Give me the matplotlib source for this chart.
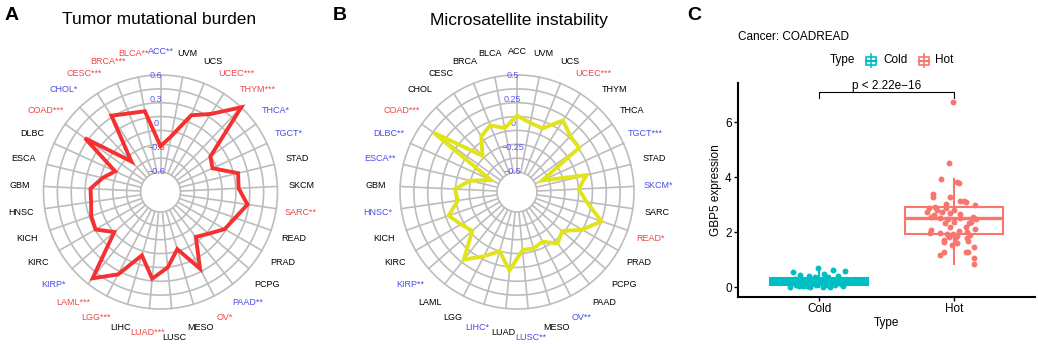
import numpy as np
import matplotlib
matplotlib.use("Agg")
import matplotlib.pyplot as plt
from matplotlib.patches import Rectangle
from matplotlib.lines import Line2D

plt.rcParams['font.family'] = ['Liberation Sans', 'DejaVu Sans']

W, H = 1038, 344

# cancer types, alphabetical, drawn counter-clockwise from the top
cancers = ['ACC', 'BLCA', 'BRCA', 'CESC', 'CHOL', 'COAD', 'DLBC', 'ESCA', 'GBM',
           'HNSC', 'KICH', 'KIRC', 'KIRP', 'LAML', 'LGG', 'LIHC', 'LUAD', 'LUSC',
           'MESO', 'OV', 'PAAD', 'PCPG', 'PRAD', 'READ', 'SARC', 'SKCM', 'STAD',
           'TGCT', 'THCA', 'THYM', 'UCEC', 'UCS', 'UVM']

# panel A: correlation with tumor mutational burden
tmb_cor = [-0.28, 0.17, 0.20, 0.275, -0.325, 0.30, -0.23, -0.11, 0.02,
           0.02, 0.06, 0.08, -0.09, 0.51, 0.30, -0.03, 0.23, 0.09,
           -0.11, 0.22, -0.14, -0.06, 0.07, 0.13, 0.24, 0.12, 0.14,
           -0.14, -0.09, 0.60, 0.30, 0.175, -0.145]
tmb_stars = ['**', '**', '***', '***', '*', '***', '', '', '',
             '', '', '', '*', '***', '***', '', '***', '',
             '', '*', '**', '', '', '', '**', '', '',
             '*', '*', '***', '***', '', '']

# panel B: correlation with microsatellite instability
msi_cor = [0.08, -0.035, 0.035, -0.025, -0.19, 0.35, -0.41, -0.21, -0.066,
           -0.09, 0.04, -0.04, -0.095, 0.18, 0.04, -0.07, 0.107, -0.105,
           -0.10, -0.13, -0.03, -0.09, 0.07, 0.216, 0.02, -0.07, 0.03,
           -0.42, 0.08, 0.09, 0.17, 0.0, 0.02]
msi_stars = ['', '', '', '', '', '***', '**', '**', '',
             '*', '', '', '**', '', '', '*', '', '**',
             '', '**', '', '', '', '*', '', '*', '',
             '***', '', '', '***', '', '']

tmb_ticks = [0.6, 0.3, 0, -0.3, -0.6]
tmb_tick_labels = ['0.6', '0.3', '0', '\u22120.3', '\u22120.6']
msi_ticks = [0.5, 0.25, 0, -0.25, -0.5]
msi_tick_labels = ['0.5', '0.25', '0', '\u22120.25', '\u22120.5']

# panel C: GBP5 expression in cold / hot COADREAD tumours
groups = ['Cold', 'Hot']
cold_stats = dict(q1=0.08, med=0.20, q3=0.33, whislo=0.0, whishi=0.62)
hot_stats = dict(q1=1.92, med=2.52, q3=2.90, whislo=0.83, whishi=3.92)
cold_dx = [-0.193, -0.007, 0.19, 0.10, 0.037, -0.074, -0.143, -0.18, -0.10, -0.032,
           0.07, 0.14, -0.205, -0.168, -0.119, -0.057, -0.02, 0.017, 0.067, 0.116,
           0.165, 0.178, -0.217, -0.07, 0.005, 0.04, -0.143, 0.14, 0.08, -0.09,
           0.12, -0.04, 0.03, 0.09, -0.15]
cold_y = [0.56, 0.70, 0.58, 0.61, 0.49, 0.42, 0.45, 0.29, 0.23, 0.35,
          0.35, 0.42, 0.15, 0.09, 0.03, 0.12, 0.06, 0.15, 0.09, 0.06,
          0.12, 0.03, 0.01, 0.02, 0.23, 0.17, 0.17, 0.23, 0.01, 0.05,
          0.18, 0.28, 0.02, 0.26, 0.03]
hot_dx = [-0.007, -0.037, -0.096, 0.022, 0.04, -0.158, -0.156, -0.027, 0.077, 0.089,
          -0.057, 0.158, -0.188, -0.126, -0.059, 0.002, -0.2, -0.15, -0.089, -0.027,
          0.042, 0.141, -0.17, -0.101, -0.047, 0.047, 0.165, 0.128, 0.109, -0.002,
          -0.069, 0.158, 0.091, -0.17, -0.101, -0.052, -0.007, 0.022, -0.18, 0.035,
          0.096, 0.121, 0.01, -0.04, -0.077, 0.096, 0.101, -0.015, -0.077, 0.022,
          0.15, -0.077, -0.101, 0.091, 0.101, 0.146, 0.15, 0.047, -0.138, -0.03]
hot_y = [6.74, 4.52, 3.93, 3.83, 3.77, 3.38, 3.27, 3.26, 3.13, 3.10,
         3.02, 2.98, 2.86, 2.80, 2.86, 2.80, 2.72, 2.62, 2.72, 2.68,
         2.64, 2.56, 2.56, 2.50, 2.46, 2.52, 2.46, 2.37, 2.32, 2.37,
         2.32, 2.13, 2.18, 2.07, 1.95, 1.92, 1.92, 1.87, 1.95, 2.04,
         1.99, 1.89, 1.77, 1.83, 1.71, 1.77, 1.68, 1.53, 1.65, 1.59,
         1.47, 1.28, 1.16, 1.28, 1.26, 1.04, 0.84, 3.13, 2.92, 2.20]

RED = '#F24545'
BLUE = '#4B4BEF'
GRID = '#BDBDBD'
COLD = '#00BFC4'
HOT = '#F8766D'

fig = plt.figure(figsize=(W / 100, H / 100), dpi=100)


def fx(x):
    return x / W


def fy(y):
    return 1 - y / H


def radar(cx, cy, values, stars, vmax, ticks, tick_labels, line_color, title, title_x):
    outer, inner, lab_r = 117, 20, 141
    ax = fig.add_axes([fx(cx - outer), fy(cy + outer), 2 * outer / W, 2 * outer / H],
                      projection='polar')
    scale = (outer - inner) / (2 * vmax)
    ax.set_theta_offset(np.pi / 2)
    ax.set_ylim(-vmax, vmax)
    ax.set_rorigin(-vmax - inner / scale)
    ax.axis('off')

    n = len(cancers)
    theta = np.arange(n) * 2 * np.pi / n
    full = np.linspace(0, 2 * np.pi, 361)
    for r in np.linspace(-vmax, vmax, 8):
        ax.plot(full, np.full_like(full, r), color=GRID, lw=1.2, clip_on=False, zorder=1)
    for t in theta:
        ax.plot([t, t], [-vmax, vmax], color=GRID, lw=1.2, clip_on=False, zorder=1)

    for t, lab in zip(ticks, tick_labels):
        ax.annotate(lab, (0, t), xytext=(-3, 0), textcoords='offset points',
                    ha='center', va='center', fontsize=6.5, color='#5A5AF5', zorder=3)

    ax.plot(np.append(theta, theta[0]), np.append(values, values[0]),
            color=line_color, lw=2.8, clip_on=False, zorder=4, solid_joinstyle='miter')

    lab_v = vmax + (lab_r - outer) / scale
    for t, name, v, s in zip(theta, cancers, values, stars):
        col = 'black' if not s else (RED if v > 0 else BLUE)
        dy = -4 if name == 'LUSC' else 0
        ax.annotate(name + s, (t, lab_v), xytext=(0, dy), textcoords='offset points',
                    ha='center', va='center', fontsize=6.5, color=col,
                    annotation_clip=False)

    fig.text(fx(title_x), fy(20), title, ha='center', va='center', fontsize=12.5)


radar(160.5, 192, tmb_cor, tmb_stars, 0.6, tmb_ticks, tmb_tick_labels, '#F53030',
      'Tumor mutational burden', 159)
radar(517, 192, msi_cor, msi_stars, 0.5, msi_ticks, msi_tick_labels, '#E3E31A',
      'Microsatellite instability', 519)

for letter, x in [('A', 5), ('B', 333), ('C', 687)]:
    fig.text(fx(x), fy(15), letter, ha='left', va='center', fontsize=14, fontweight='bold')

# panel C
axc = fig.add_axes([fx(738), fy(297), (1035 - 738) / W, (297 - 83) / H])
bp = axc.bxp([cold_stats, hot_stats], positions=[1, 2], widths=0.72, showfliers=False,
             showcaps=False, patch_artist=True)
for i, c in enumerate([COLD, HOT]):
    bp['boxes'][i].set(facecolor=COLD if i == 0 else 'white', edgecolor=c, linewidth=1.5)
    bp['medians'][i].set(color=c, linewidth=2.4)
    for w in bp['whiskers'][2 * i:2 * i + 2]:
        w.set(color=c, linewidth=1.5)

axc.scatter(1 + np.array(cold_dx), cold_y, s=18, color=COLD, zorder=3, linewidths=0)
axc.scatter(2 + np.array(hot_dx), hot_y, s=18, color=HOT, zorder=3, linewidths=0)

axc.plot([1, 1, 2, 2], [6.86, 7.08, 7.08, 6.86], color='black', lw=0.8)
axc.text(1.5, 7.1, 'p < 2.22e\u221216', ha='center', va='bottom', fontsize=8.5)

axc.set_xlim(0.4, 2.6)
axc.set_ylim(-0.36, 7.42)
axc.set_xticks([1, 2])
axc.set_xticklabels(groups)
axc.set_yticks([0, 2, 4, 6])
for side in ['top', 'right']:
    axc.spines[side].set_visible(False)
for side in ['left', 'bottom']:
    axc.spines[side].set_linewidth(1.5)
axc.tick_params(labelsize=8.5, length=3, width=1, colors='black', pad=1.5)
axc.set_xlabel('Type', fontsize=8.5, labelpad=1)
axc.set_ylabel('GBP5 expression', fontsize=8.5, labelpad=2)

fig.text(fx(738), fy(37), 'Cancer: COADREAD', ha='left', va='center', fontsize=8.5)

# legend
fig.text(fx(830), fy(60), 'Type', ha='left', va='center', fontsize=8.5)
for cx, c, lab, tx in [(871, COLD, 'Cold', 883), (924, HOT, 'Hot', 935)]:
    fig.add_artist(Line2D([fx(cx), fx(cx)], [fy(54), fy(67)], color=c, lw=1.2))
    fig.add_artist(Rectangle((fx(cx - 5), fy(65)), 10 / W, 8 / H, facecolor='white',
                             edgecolor=c, lw=1.2, transform=fig.transFigure))
    fig.add_artist(Line2D([fx(cx - 5), fx(cx + 5)], [fy(61), fy(61)], color=c, lw=1.6))
    fig.text(fx(tx), fy(60), lab, ha='left', va='center', fontsize=8.5)

fig.savefig('out.png', dpi=100)
